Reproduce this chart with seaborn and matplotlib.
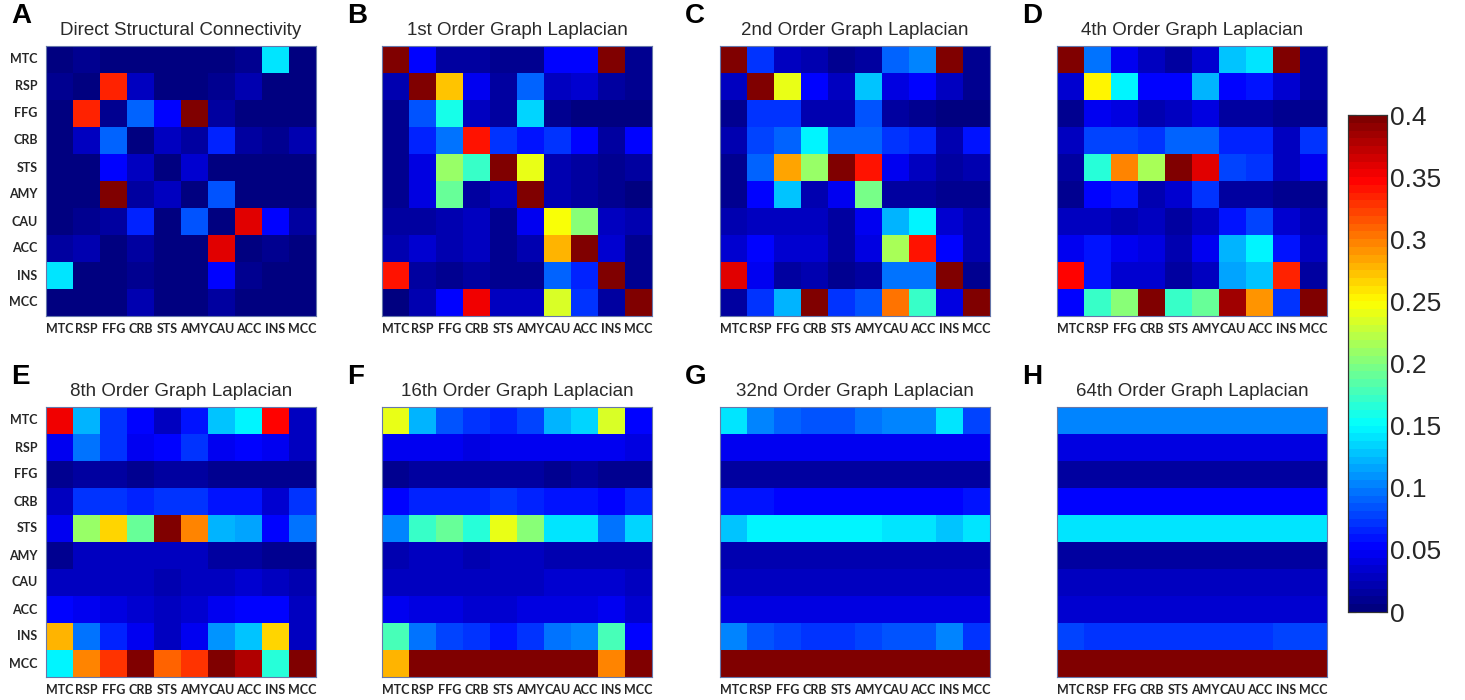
import numpy as np
import matplotlib
matplotlib.use("Agg")
import matplotlib.pyplot as plt
from matplotlib.colors import LinearSegmentedColormap
import seaborn as sns

regions = ["MTC", "RSP", "FFG", "CRB", "STS", "AMY", "CAU", "ACC", "INS", "MCC"]

titles = ["Direct Structural Connectivity", "1st Order Graph Laplacian",
          "2nd Order Graph Laplacian", "4th Order Graph Laplacian",
          "8th Order Graph Laplacian", "16th Order Graph Laplacian",
          "32nd Order Graph Laplacian", "64th Order Graph Laplacian"]
letters = ["A", "B", "C", "D", "E", "F", "G", "H"]
cbar_ticks = [0, 0.05, 0.1, 0.15, 0.2, 0.25, 0.3, 0.35, 0.4]
cbar_labels = ["0", "0.05", "0.1", "0.15", "0.2", "0.25", "0.3", "0.35", "0.4"]

direct = [
    [0.005, 0.01, 0.005, 0.005, 0.005, 0.005, 0.005, 0.01, 0.14, 0.005],
    [0.01, 0.005, 0.335, 0.025, 0.005, 0.005, 0.01, 0.02, 0.005, 0.005],
    [0.005, 0.335, 0.01, 0.09, 0.055, 0.4, 0.015, 0.005, 0.005, 0.005],
    [0.005, 0.025, 0.09, 0.005, 0.025, 0.015, 0.065, 0.015, 0.01, 0.02],
    [0.005, 0.005, 0.055, 0.025, 0.005, 0.035, 0.005, 0.005, 0.005, 0.005],
    [0.005, 0.005, 0.4, 0.015, 0.025, 0.005, 0.085, 0.005, 0.005, 0.005],
    [0.005, 0.01, 0.015, 0.065, 0.005, 0.085, 0.005, 0.36, 0.055, 0.015],
    [0.015, 0.02, 0.005, 0.015, 0.005, 0.005, 0.36, 0.005, 0.01, 0.005],
    [0.14, 0.005, 0.005, 0.01, 0.005, 0.005, 0.05, 0.01, 0.005, 0.005],
    [0.005, 0.005, 0.005, 0.02, 0.005, 0.005, 0.015, 0.005, 0.005, 0.005],
]
order1 = [
    [0.4, 0.05, 0.015, 0.015, 0.01, 0.01, 0.05, 0.05, 0.4, 0.01],
    [0.02, 0.4, 0.27, 0.045, 0.015, 0.09, 0.025, 0.035, 0.015, 0.01],
    [0.01, 0.085, 0.16, 0.025, 0.015, 0.135, 0.01, 0.005, 0.005, 0.005],
    [0.01, 0.065, 0.095, 0.34, 0.075, 0.06, 0.075, 0.05, 0.015, 0.05],
    [0.01, 0.04, 0.21, 0.17, 0.4, 0.24, 0.02, 0.015, 0.01, 0.015],
    [0.01, 0.04, 0.19, 0.015, 0.025, 0.4, 0.02, 0.015, 0.01, 0.005],
    [0.015, 0.015, 0.02, 0.03, 0.01, 0.045, 0.245, 0.2, 0.03, 0.02],
    [0.02, 0.035, 0.02, 0.025, 0.01, 0.02, 0.28, 0.4, 0.035, 0.01],
    [0.34, 0.015, 0.01, 0.015, 0.01, 0.01, 0.09, 0.065, 0.4, 0.01],
    [0.005, 0.02, 0.05, 0.355, 0.025, 0.025, 0.235, 0.075, 0.015, 0.4],
]
order2 = [
    [0.4, 0.07, 0.025, 0.02, 0.01, 0.015, 0.09, 0.1, 0.4, 0.01],
    [0.025, 0.4, 0.24, 0.05, 0.025, 0.125, 0.04, 0.05, 0.025, 0.01],
    [0.01, 0.075, 0.075, 0.02, 0.02, 0.085, 0.015, 0.01, 0.005, 0.005],
    [0.02, 0.08, 0.09, 0.145, 0.09, 0.09, 0.07, 0.065, 0.02, 0.06],
    [0.01, 0.09, 0.285, 0.21, 0.4, 0.34, 0.045, 0.025, 0.015, 0.02],
    [0.01, 0.05, 0.125, 0.02, 0.045, 0.195, 0.015, 0.015, 0.01, 0.01],
    [0.02, 0.025, 0.025, 0.03, 0.015, 0.045, 0.12, 0.15, 0.035, 0.02],
    [0.035, 0.05, 0.035, 0.035, 0.015, 0.04, 0.215, 0.34, 0.055, 0.02],
    [0.36, 0.045, 0.015, 0.02, 0.01, 0.015, 0.095, 0.095, 0.4, 0.01],
    [0.015, 0.07, 0.12, 0.4, 0.07, 0.085, 0.305, 0.175, 0.04, 0.4],
]
order4 = [
    [0.4, 0.095, 0.045, 0.03, 0.015, 0.035, 0.13, 0.14, 0.4, 0.015],
    [0.035, 0.255, 0.15, 0.05, 0.05, 0.12, 0.055, 0.06, 0.035, 0.015],
    [0.01, 0.045, 0.04, 0.02, 0.03, 0.04, 0.015, 0.015, 0.01, 0.01],
    [0.025, 0.08, 0.08, 0.075, 0.09, 0.09, 0.065, 0.065, 0.03, 0.07],
    [0.015, 0.165, 0.3, 0.215, 0.4, 0.36, 0.08, 0.07, 0.025, 0.045],
    [0.01, 0.055, 0.06, 0.02, 0.035, 0.07, 0.015, 0.015, 0.01, 0.01],
    [0.025, 0.025, 0.02, 0.025, 0.015, 0.03, 0.06, 0.08, 0.035, 0.02],
    [0.045, 0.06, 0.045, 0.04, 0.02, 0.045, 0.12, 0.15, 0.06, 0.025],
    [0.35, 0.06, 0.035, 0.035, 0.015, 0.025, 0.115, 0.13, 0.335, 0.015],
    [0.05, 0.175, 0.205, 0.4, 0.17, 0.19, 0.385, 0.29, 0.07, 0.4],
]
order8 = [
    [0.355, 0.12, 0.07, 0.05, 0.03, 0.06, 0.13, 0.145, 0.345, 0.025],
    [0.045, 0.095, 0.075, 0.045, 0.05, 0.07, 0.045, 0.05, 0.045, 0.03],
    [0.01, 0.015, 0.015, 0.01, 0.015, 0.015, 0.01, 0.01, 0.01, 0.01],
    [0.03, 0.07, 0.07, 0.065, 0.075, 0.075, 0.06, 0.06, 0.035, 0.07],
    [0.045, 0.21, 0.265, 0.19, 0.4, 0.3, 0.12, 0.115, 0.05, 0.095],
    [0.01, 0.03, 0.03, 0.025, 0.03, 0.03, 0.015, 0.015, 0.01, 0.01],
    [0.025, 0.025, 0.025, 0.025, 0.02, 0.025, 0.03, 0.035, 0.03, 0.02],
    [0.055, 0.045, 0.04, 0.035, 0.025, 0.035, 0.045, 0.055, 0.055, 0.025],
    [0.28, 0.095, 0.065, 0.045, 0.03, 0.045, 0.11, 0.125, 0.265, 0.025],
    [0.145, 0.3, 0.33, 0.4, 0.31, 0.325, 0.4, 0.38, 0.165, 0.4],
]
order16 = [
    [0.24, 0.12, 0.085, 0.075, 0.065, 0.08, 0.12, 0.135, 0.235, 0.055],
    [0.045, 0.045, 0.045, 0.04, 0.045, 0.045, 0.045, 0.045, 0.045, 0.04],
    [0.01, 0.015, 0.015, 0.015, 0.015, 0.015, 0.01, 0.015, 0.01, 0.01],
    [0.05, 0.065, 0.065, 0.065, 0.07, 0.065, 0.06, 0.06, 0.05, 0.065],
    [0.1, 0.175, 0.19, 0.165, 0.24, 0.2, 0.14, 0.14, 0.095, 0.135],
    [0.02, 0.025, 0.025, 0.02, 0.025, 0.025, 0.02, 0.02, 0.02, 0.02],
    [0.03, 0.03, 0.03, 0.03, 0.03, 0.03, 0.035, 0.035, 0.035, 0.03],
    [0.045, 0.04, 0.04, 0.035, 0.035, 0.04, 0.04, 0.04, 0.045, 0.035],
    [0.18, 0.095, 0.08, 0.07, 0.06, 0.07, 0.095, 0.1, 0.18, 0.05],
    [0.28, 0.4, 0.4, 0.4, 0.4, 0.4, 0.4, 0.4, 0.295, 0.4],
]
order32 = [
    [0.14, 0.1, 0.09, 0.085, 0.085, 0.095, 0.105, 0.105, 0.14, 0.08],
    [0.045, 0.045, 0.045, 0.045, 0.045, 0.045, 0.045, 0.045, 0.045, 0.045],
    [0.015, 0.018, 0.018, 0.018, 0.018, 0.018, 0.018, 0.018, 0.015, 0.015],
    [0.06, 0.06, 0.055, 0.055, 0.055, 0.055, 0.055, 0.055, 0.055, 0.06],
    [0.13, 0.145, 0.145, 0.145, 0.15, 0.145, 0.14, 0.14, 0.13, 0.14],
    [0.02, 0.02, 0.02, 0.02, 0.02, 0.02, 0.02, 0.02, 0.02, 0.02],
    [0.03, 0.03, 0.03, 0.03, 0.03, 0.03, 0.03, 0.03, 0.03, 0.03],
    [0.04, 0.04, 0.04, 0.04, 0.04, 0.04, 0.04, 0.04, 0.04, 0.04],
    [0.105, 0.085, 0.08, 0.075, 0.075, 0.08, 0.085, 0.085, 0.105, 0.07],
    [0.4, 0.4, 0.4, 0.4, 0.4, 0.4, 0.4, 0.4, 0.4, 0.4],
]
order64 = [
    [0.105, 0.105, 0.105, 0.1, 0.1, 0.105, 0.105, 0.105, 0.105, 0.1],
    [0.04, 0.04, 0.04, 0.04, 0.04, 0.04, 0.04, 0.04, 0.04, 0.04],
    [0.015, 0.015, 0.015, 0.015, 0.015, 0.015, 0.015, 0.015, 0.015, 0.015],
    [0.055, 0.055, 0.055, 0.055, 0.055, 0.055, 0.055, 0.055, 0.055, 0.055],
    [0.14, 0.14, 0.14, 0.14, 0.14, 0.14, 0.14, 0.14, 0.14, 0.14],
    [0.015, 0.015, 0.015, 0.015, 0.015, 0.015, 0.015, 0.015, 0.015, 0.015],
    [0.03, 0.03, 0.03, 0.03, 0.03, 0.03, 0.03, 0.03, 0.03, 0.03],
    [0.035, 0.035, 0.035, 0.035, 0.035, 0.035, 0.035, 0.035, 0.035, 0.035],
    [0.08, 0.075, 0.075, 0.075, 0.075, 0.075, 0.075, 0.075, 0.08, 0.08],
    [0.4, 0.4, 0.4, 0.4, 0.4, 0.4, 0.4, 0.4, 0.4, 0.4],
]
matrices = [direct, order1, order2, order4, order8, order16, order32, order64]

# MATLAB-style jet colormap
matlab_jet = LinearSegmentedColormap("matlab_jet", {
    "red":   [(0, 0, 0), (0.375, 0, 0), (0.625, 1, 1), (0.875, 1, 1), (1, 0.5, 0.5)],
    "green": [(0, 0, 0), (0.125, 0, 0), (0.375, 1, 1), (0.625, 1, 1), (0.875, 0, 0), (1, 0, 0)],
    "blue":  [(0, 0.5, 0.5), (0.125, 1, 1), (0.375, 1, 1), (0.625, 0, 0), (1, 0, 0)],
}, N=64)

sns.set_theme(style="white")
plt.rcParams['font.family'] = ['Liberation Sans', 'DejaVu Sans']

W, H = 1465, 700
fig = plt.figure(figsize=(W / 100, H / 100), dpi=100)
fig.patch.set_facecolor("white")

def rect(x0, y0, w, h):
    return [x0 / W, 1 - (y0 + h) / H, w / W, h / H]

xs = [46, 382, 720, 1057]
ys = [46, 407]
size = 270
tick_font = ["Lato", "DejaVu Sans"]

cax = fig.add_axes(rect(1348, 115, 39, 497))

for i, (mat, title, letter) in enumerate(zip(matrices, titles, letters)):
    r, c = divmod(i, 4)
    ax = fig.add_axes(rect(xs[c], ys[r], size, size))
    sns.heatmap(np.array(mat), ax=ax, cmap=matlab_jet, vmin=0, vmax=0.4,
                cbar=(i == 0), cbar_ax=cax if i == 0 else None,
                xticklabels=regions, yticklabels=regions if c == 0 else False,
                square=False, linewidths=0)
    ax.set_xticklabels(regions, rotation=0, fontsize=9, fontweight="bold",
                       family=tick_font)
    if c == 0:
        ax.set_yticklabels(regions, rotation=0, fontsize=9, fontweight="bold",
                           family=tick_font)
    ax.tick_params(axis="both", which="both", direction="in", length=3,
                   width=0.6, color="#555555", top=True, right=True,
                   bottom=True, left=True)
    ax.tick_params(axis="x", pad=5)
    ax.tick_params(axis="y", pad=6)
    for s in ax.spines.values():
        s.set_visible(True)
        s.set_color("#6677aa")
        s.set_linewidth(0.8)
    ax.set_title(title, fontsize=13.5, color="#2a2a2a", pad=8)
    ax.text(-0.13, 1.11, letter, transform=ax.transAxes, fontsize=20,
            fontweight="bold", color="black", ha="left", va="center")

cax.set_yticks(cbar_ticks)
cax.set_yticklabels(cbar_labels, fontsize=19)
cax.tick_params(axis="y", direction="in", length=6, width=0.8, color="#333333",
                left=True, right=True, pad=2)
for s in cax.spines.values():
    s.set_visible(True)
    s.set_color("#333333")
    s.set_linewidth(0.8)

fig.savefig("out.png", dpi=100, facecolor="white")
